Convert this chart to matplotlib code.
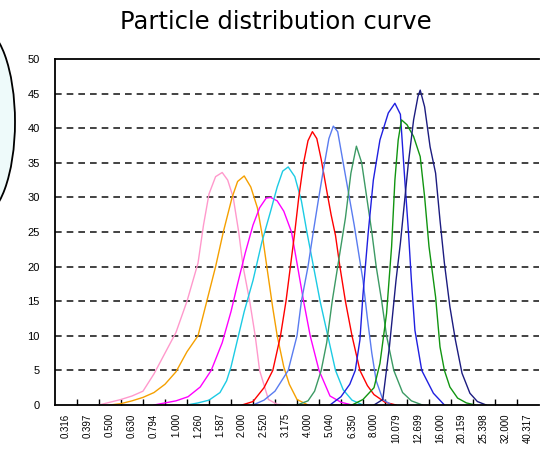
import matplotlib
matplotlib.use("Agg")
import matplotlib.pyplot as plt
from matplotlib.patches import Ellipse

# particle size classes (um) shown on the category axis
sizes = ["0.316", "0.397", "0.500", "0.630", "0.794", "1.000", "1.260", "1.587",
         "2.000", "2.520", "3.175", "4.000", "5.040", "6.350", "8.000", "10.079",
         "12.699", "16.000", "20.159", "25.398", "32.000", "40.317"]
y_ticks = [0, 5, 10, 15, 20, 25, 30, 35, 40, 45, 50]

# curves: x = position on the size axis (class index), y = frequency
pink_x = [1.5, 2, 2.5, 3, 3.5, 4, 4.5, 5, 5.5, 6, 6.25, 6.5, 6.8, 7.1, 7.35, 7.6, 7.85, 8.05, 8.35, 8.6, 8.8, 9.2, 9.6, 10]
pink_y = [0, 0.4, 0.8, 1.3, 2.0, 4.5, 7.5, 10.5, 15, 20.5, 26, 30.5, 33, 33.6, 32.5, 30, 25, 20, 15, 10, 5, 0.8, 0.1, 0]

orange_x = [2, 2.5, 3, 3.5, 4, 4.5, 5, 5.5, 6, 6.4, 6.8, 7.15, 7.55, 7.8, 8.1, 8.4, 8.7, 8.95, 9.15, 9.4, 9.6, 9.9, 10.15, 10.5, 11]
orange_y = [0, 0.2, 0.6, 1.1, 1.8, 3, 4.8, 7.7, 10, 15, 20, 25, 30, 32.3, 33.1, 31.5, 28.5, 24, 19.5, 14, 10, 5.5, 3, 0.8, 0]

magenta_x = [4, 4.5, 5, 5.55, 6.1, 6.6, 7.1, 7.5, 7.8, 8.15, 8.5, 8.8, 9.1, 9.3, 9.6, 9.9, 10.25, 10.5, 10.8, 11.1, 11.5, 12, 12.5, 13]
magenta_y = [0, 0.3, 0.6, 1.2, 2.6, 5, 9, 13.5, 17.5, 22, 26, 28.5, 29.9, 30, 29.5, 28, 25, 20.5, 15, 10, 5, 1.3, 0.4, 0]

cyan_x = [5.5, 6, 6.5, 7, 7.3, 7.5, 7.8, 8.1, 8.5, 8.9, 9.3, 9.6, 9.85, 10.1, 10.4, 10.7, 10.95, 11.25, 11.55, 11.9, 12.25, 12.6, 13, 13.5]
cyan_y = [0, 0.3, 0.7, 1.8, 3.5, 5.5, 9.5, 13.5, 18, 23.5, 28, 31.5, 33.8, 34.4, 33, 29.5, 25, 20, 15, 10, 5, 2.2, 0.7, 0]

red_x = [8, 8.5, 9, 9.4, 9.75, 10.0, 10.2, 10.4, 10.58, 10.8, 11.0, 11.2, 11.4, 11.6, 11.85, 12.05, 12.25, 12.45, 12.7, 13.0, 13.36, 13.7, 14.0, 14.5, 15]
red_y = [0, 0.5, 2.5, 5, 10, 15, 20, 25, 30, 35, 38.2, 39.5, 38.5, 35.5, 31, 27.5, 24.5, 20, 15, 10, 5, 2.8, 1.5, 0.4, 0]

cornflower_x = [8.5, 9, 9.5, 10.1, 10.5, 10.7, 11.0, 11.24, 11.47, 11.7, 11.95, 12.15, 12.35, 12.6, 12.85, 13.1, 13.3, 13.5, 13.7, 13.9, 14.1, 14.4, 14.8]
cornflower_y = [0, 0.7, 2, 5, 10, 15, 20, 25, 29.6, 34, 38.5, 40.3, 39.5, 35, 30.5, 26, 22, 18, 12.5, 7.5, 3.5, 0.8, 0]

seagreen_x = [10.5, 11, 11.3, 11.6, 11.85, 12.1, 12.4, 12.7, 12.95, 13.2, 13.44, 13.67, 13.9, 14.1, 14.35, 14.57, 14.9, 15.3, 15.7, 16.2]
seagreen_y = [0, 0.6, 2, 5, 9, 15, 21, 27, 33.5, 37.4, 35, 30, 25, 20, 15, 10, 5, 1.8, 0.6, 0]

blue_x = [12, 12.5, 12.9, 13.15, 13.36, 13.5, 13.74, 13.97, 14.27, 14.65, 14.95, 15.2, 15.4, 15.56, 15.7, 15.86, 16.17, 16.7, 17.2]
blue_y = [0, 1.2, 3, 5, 9.4, 16, 25, 32.5, 38.3, 42.2, 43.6, 42, 32.5, 25.3, 18, 10.8, 5, 1.7, 0]

green_x = [13, 13.5, 14, 14.27, 14.57, 14.8, 14.95, 15.1, 15.25, 15.5, 15.8, 16.1, 16.3, 16.5, 16.8, 17.0, 17.2, 17.45, 17.8, 18.2, 18.6]
green_y = [0, 0.8, 2.5, 6, 13.2, 22.9, 32.5, 38.3, 41.2, 40.5, 38.8, 35.9, 30.1, 22.9, 15.6, 8.4, 5, 2.6, 1, 0.3, 0]

navy_x = [14, 14.4, 14.7, 15.0, 15.2, 15.56, 15.8, 16.0, 16.1, 16.3, 16.55, 16.8, 17.0, 17.2, 17.45, 17.7, 18.0, 18.36, 18.7, 19.1]
navy_y = [0, 0.8, 8.4, 18, 23.4, 34.9, 41.2, 44.6, 45.5, 43.1, 37.3, 33.5, 26.7, 20.5, 14.2, 9.4, 4.6, 1.7, 0.5, 0]

curves = [
    (pink_x, pink_y, "#ff99cc"),
    (orange_x, orange_y, "#f5a000"),
    (magenta_x, magenta_y, "#ff00ff"),
    (cyan_x, cyan_y, "#1ccbe4"),
    (red_x, red_y, "#ff0000"),
    (cornflower_x, cornflower_y, "#5a7cf0"),
    (seagreen_x, seagreen_y, "#3c9a64"),
    (blue_x, blue_y, "#1f1fe0"),
    (green_x, green_y, "#119511"),
    (navy_x, navy_y, "#1c1c80"),
]

fig = plt.figure(figsize=(5.4, 4.55), dpi=100)

# bit of a rounded frame peeking in on the left edge
frame = Ellipse((-20 / 540, 1 - 122 / 455), 70 / 540, 190 / 455, transform=fig.transFigure,
                facecolor="#eefafa", edgecolor="black", linewidth=1.3)
fig.patches.append(frame)

ax = fig.add_axes([55 / 540, 50 / 455, 484 / 540, 346 / 455])

for xs, ys, col in curves:
    ax.plot(xs, ys, color=col, linewidth=1.0)

ax.set_xlim(-0.5, len(sizes) - 0.5)
ax.set_ylim(0, 50)

# dashed horizontal grid
for v in y_ticks[1:-1]:
    ax.axhline(v, color="#222222", linewidth=1.2, linestyle=(0, (4, 3)), zorder=0)

ax.set_yticks(y_ticks)
ax.set_yticklabels([str(v) for v in y_ticks], fontsize=8, family="Liberation Sans")
ax.tick_params(axis="y", length=0, pad=11)

# category labels in the middle of each class, tick marks between classes
ax.set_xticks(range(len(sizes)))
ax.set_xticklabels(sizes, fontsize=7, family="Liberation Sans")
ax.tick_params(axis="x", which="major", length=0, pad=6, labelrotation=90)
ax.set_xticks([i + 0.5 for i in range(len(sizes) - 1)], minor=True)
ax.tick_params(axis="x", which="minor", direction="in", length=4, width=1)

for side in ["left", "bottom", "top"]:
    ax.spines[side].set_linewidth(1.3)
ax.spines["right"].set_visible(False)

fig.text(276 / 540, 1 - 22 / 455, "Particle distribution curve", ha="center", va="center",
         fontsize=17.5, family="DejaVu Sans")

fig.savefig("out.png", dpi=100)
